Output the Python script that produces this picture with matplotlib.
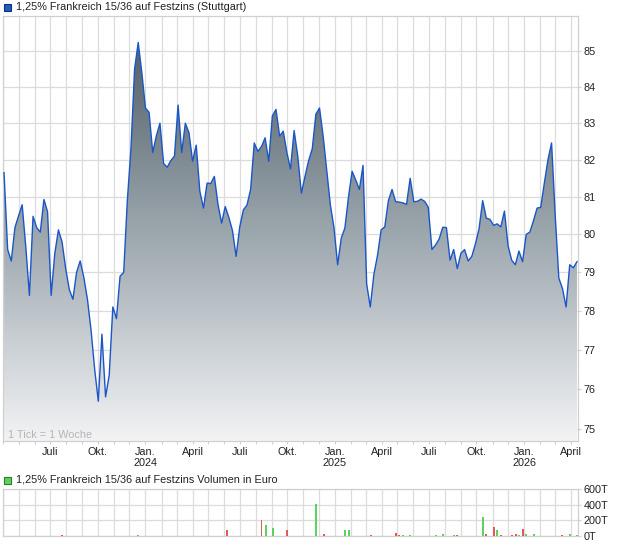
import numpy as np
import pandas as pd
import matplotlib
matplotlib.use('Agg')
import matplotlib.pyplot as plt
import matplotlib.dates as mdates
from matplotlib.ticker import FixedLocator, FuncFormatter, NullLocator
from matplotlib.colors import LinearSegmentedColormap
from matplotlib.patches import Rectangle

plt.rcParams['font.family'] = ['Liberation Sans', 'DejaVu Sans']

# weekly closing prices
price_dates = pd.date_range('2023-04-03', periods=159, freq='7D')
prices = [
    81.65, 79.6, 79.3, 80.18, 80.49, 80.79, 79.67, 78.4, 80.48, 80.18,
    80.06, 80.93, 80.6, 78.4, 79.5, 80.12, 79.8, 79.1, 78.55, 78.3,
    79.0, 79.3, 78.87, 78.3, 77.5, 76.5, 75.7, 77.4, 75.81, 76.35,
    78.1, 77.8, 78.9, 79.0, 80.9, 82.3, 84.5, 85.25, 84.4, 83.42,
    83.3, 82.2, 82.65, 83.0, 81.9, 81.8, 81.98, 82.1, 83.5, 82.2,
    83.0, 82.74, 81.96, 82.4, 81.15, 80.7, 81.37, 81.36, 81.55, 80.8,
    80.3, 80.74, 80.45, 80.1, 79.42, 80.2, 80.65, 80.78, 81.2, 82.46,
    82.23, 82.36, 82.6, 81.96, 83.2, 83.38, 82.65, 82.78, 82.2, 81.75,
    82.8, 82.1, 81.1, 81.55, 81.98, 82.3, 83.25, 83.42, 82.65, 81.7,
    80.78, 80.17, 79.2, 79.9, 80.17, 81.0, 81.69, 81.45, 81.2, 81.85,
    78.7, 78.1, 78.95, 79.45, 80.12, 80.2, 80.9, 81.2, 80.87, 80.86,
    80.84, 80.8, 81.5, 80.87, 80.88, 80.94, 80.88, 80.72, 79.6, 79.72,
    79.88, 80.19, 80.18, 79.32, 79.6, 79.1, 79.5, 79.6, 79.3, 79.42,
    79.75, 80.15, 80.9, 80.43, 80.4, 80.24, 80.28, 80.2, 80.62, 79.7,
    79.32, 79.2, 79.56, 79.28, 80.0, 80.06, 80.36, 80.7, 80.72, 81.37,
    82.0, 82.46, 80.5, 78.85, 78.58, 78.1, 79.2, 79.12, 79.28,
]

# volume in thousand euro, direction 1 = up day, -1 = down day
vol_dates = [
    '2023-05-15', '2023-07-24', '2023-12-18', '2024-04-08', '2024-06-07',
    '2024-08-12', '2024-08-20', '2024-09-03', '2024-09-30', '2024-11-25',
    '2024-12-10', '2025-01-20', '2025-01-28', '2025-03-11', '2025-04-28',
    '2025-05-05', '2025-05-12', '2025-05-26', '2025-07-14', '2025-07-28',
    '2025-08-18', '2025-08-25', '2025-10-13', '2025-10-20', '2025-11-03',
    '2025-11-10', '2025-11-17', '2025-12-08', '2025-12-16', '2025-12-22',
    '2025-12-29', '2026-01-05', '2026-01-20', '2026-03-16', '2026-03-30',
    '2026-04-13',
]
vol_values = [
    6, 10, 10, 6, 76,
    204, 140, 106, 76, 408,
    21, 76, 76, 15, 42,
    8, 8, 8, 13, 25,
    13, 13, 246, 25, 119,
    76, 13, 8, 25, 8,
    89, 25, 25, 13, 25,
    13,
]
vol_dir = [
    -1, -1, 1, 1, -1,
    -1, 1, 1, -1, 1,
    -1, 1, 1, -1, -1,
    -1, 1, 1, 1, 1,
    1, -1, 1, -1, -1,
    1, -1, -1, -1, 1,
    -1, 1, 1, -1, 1,
    1,
]

y_ticks = [75, 76, 77, 78, 79, 80, 81, 82, 83, 84, 85]
label_ticks = ['2023-07-01', '2023-10-01', '2024-01-01', '2024-04-01', '2024-07-01',
               '2024-10-01', '2025-01-01', '2025-04-01', '2025-07-01', '2025-10-01',
               '2026-01-01', '2026-04-01']
month_names = {1: 'Jan.', 4: 'April', 7: 'Juli', 10: 'Okt.'}

W, H = 620, 546
grid_c = '#dcdcdc'
spine_c = '#d0d0d0'
text_c = '#222222'
fs = 7.8

fig = plt.figure(figsize=(W / 100, H / 100), dpi=100)
ax = fig.add_axes([3 / W, 1 - 441 / H, 575 / W, 425 / H])
axv = fig.add_axes([3 / W, 1 - 536 / H, 575 / W, 47 / H])

x0 = mdates.date2num(pd.Timestamp('2023-04-01'))
x1 = mdates.date2num(pd.Timestamp('2026-04-15'))
xd = mdates.date2num(price_dates)

ax.set_yscale('log')

# gradient fill under the line
cmap = LinearSegmentedColormap.from_list('g', ['#4a5760', '#9aa5ac', '#f2f3f5'])
grad = np.linspace(0, 1, 256).reshape(-1, 1)
poly = ax.fill_between(xd, prices, 70, facecolor='none', edgecolor='none')
img = ax.imshow(grad, extent=[0, 1, 0, 1], transform=ax.transAxes, aspect='auto',
                cmap=cmap, origin='upper', zorder=1)
img.set_clip_path(poly.get_paths()[0], ax.transData)
ax.plot(xd, prices, color='#1a56c8', lw=1.0, zorder=3)

ax.set_xlim(x0, x1)
ax.set_ylim(74.71, 86.0)

# y axis on the right
ax.yaxis.tick_right()
ax.yaxis.set_major_locator(FixedLocator(y_ticks))
ax.yaxis.set_minor_locator(NullLocator())
ax.yaxis.set_major_formatter(FuncFormatter(lambda v, p: '%d' % round(v)))
ax.yaxis.set_minor_formatter(FuncFormatter(lambda v, p: ''))

# x axis: monthly grid, quarterly labels
ax.xaxis.set_minor_locator(mdates.MonthLocator())
ax.xaxis.set_major_locator(FixedLocator(mdates.date2num(pd.to_datetime(label_ticks))))


def fmt_month(v, pos):
    d = mdates.num2date(v)
    s = month_names.get(d.month, '')
    if d.month == 1:
        s += '\n%d' % d.year
    return s


ax.xaxis.set_major_formatter(FuncFormatter(fmt_month))

for a in (ax, axv):
    a.set_axisbelow(True)
    a.grid(True, which='both', color=grid_c, lw=0.9, zorder=0)
    for s in a.spines.values():
        s.set_color(spine_c)
        s.set_linewidth(0.9)
    a.tick_params(which='both', colors=spine_c, labelcolor=text_c, labelsize=fs,
                  length=2.5, width=0.8, pad=1.5)
    a.set_xlim(x0, x1)

ax.text(0.009, 0.014, '1 Tick = 1 Woche', transform=ax.transAxes, color='#b5b5b5',
        fontsize=fs, va='center', ha='left', zorder=4)

# volume panel
vd = mdates.date2num(pd.to_datetime(vol_dates))
vcol = ['#5dd35d' if d > 0 else '#e05a5a' for d in vol_dir]
axv.bar(vd, vol_values, width=3.8, color=vcol, lw=0, zorder=3)
axv.set_ylim(0, 600)
axv.yaxis.tick_right()
axv.yaxis.set_major_locator(FixedLocator([0, 200, 400, 600]))
axv.yaxis.set_major_formatter(FuncFormatter(lambda v, p: '%dT' % v))
axv.xaxis.set_major_locator(mdates.MonthLocator())
axv.xaxis.set_major_formatter(FuncFormatter(lambda v, p: ''))
axv.tick_params(axis='x', length=0)
axv.tick_params(axis='y', pad=1.5)

# header legends
fig.add_artist(Rectangle((4 / W, 1 - 11 / H), 7 / W, 7 / H, transform=fig.transFigure,
                         facecolor='#1f5cc4', edgecolor='#10306b', lw=0.8))
fig.text(16 / W, 1 - 7 / H, '1,25% Frankreich 15/36 auf Festzins (Stuttgart)',
         fontsize=fs, color=text_c, va='center', ha='left')
fig.add_artist(Rectangle((4 / W, 1 - 484 / H), 7 / W, 7 / H, transform=fig.transFigure,
                         facecolor='#5dd35d', edgecolor='#2f7a2f', lw=0.8))
fig.text(16 / W, 1 - 480 / H, '1,25% Frankreich 15/36 auf Festzins Volumen in Euro',
         fontsize=fs, color=text_c, va='center', ha='left')

fig.savefig('out.png', dpi=100)
